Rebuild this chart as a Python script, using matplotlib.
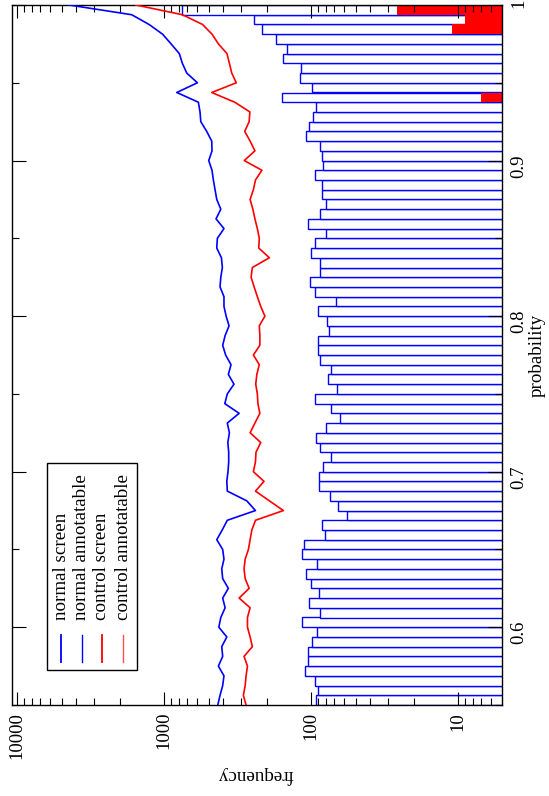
import numpy as np
import matplotlib
matplotlib.use("Agg")
import matplotlib.pyplot as plt
from matplotlib.ticker import LogLocator, MultipleLocator, FuncFormatter, NullFormatter
from matplotlib.lines import Line2D
from matplotlib.patches import Rectangle

plt.rcParams['font.family'] = ['Liberation Serif', 'DejaVu Serif']

# probability bins: 72 bins between 0.55 and 1.0
bin_edges = np.linspace(0.55, 1.0, 73)
bin_width = bin_edges[1] - bin_edges[0]
bin_centers = bin_edges[:-1] + bin_width / 2

# histogram counts per bin (low -> high probability)
normal_annotatable = [
    93, 90, 94, 110, 105, 106, 99, 92, 115, 88, 103, 89, 101, 109, 92, 115,
    112, 81, 85, 57, 66, 75, 89, 89, 83, 74, 88, 93, 80, 64, 74, 95,
    67, 77, 73, 88, 90, 90, 76, 78, 90, 68, 94, 102, 87, 88, 101, 94,
    80, 106, 87, 79, 85, 85, 95, 83, 85, 88, 109, 104, 98, 93, 159, 99,
    120, 117, 157, 146, 175, 216, 244, 754,
]
control_annotatable = [0] * 62 + [7, 0, 0, 0, 0, 0, 0, 11, 9, 26]

# screen counts at each bin edge (low -> high probability)
normal_screen = [
    433, 418, 401, 393, 429, 401, 407, 376, 426, 413, 386, 401, 367, 401, 407, 393,
    401, 440, 404, 373, 240, 275, 373, 376, 369, 365, 365, 370, 361, 373, 310, 388,
    373, 336, 367, 352, 383, 401, 386, 363, 380, 393, 393, 418, 413, 403, 409, 440,
    436, 393, 445, 413, 440, 452, 464, 474, 499, 474, 476, 515, 565, 572, 587, 823,
    596, 704, 754, 791, 900, 1028, 1271, 1667, 4450,
]
control_screen = [
    278, 290, 282, 278, 272, 287, 252, 261, 272, 272, 261, 310, 265, 282, 287, 282,
    268, 261, 254, 240, 155, 193, 240, 210, 248, 240, 238, 221, 261, 242, 224, 231,
    233, 239, 235, 226, 248, 224, 224, 226, 207, 221, 233, 245, 257, 252, 193, 228,
    226, 233, 242, 250, 261, 248, 240, 217, 286, 242, 261, 284, 265, 262, 332, 476,
    324, 348, 361, 375, 429, 474, 550, 754, 1560,
]

W, H = 549, 796
fig = plt.figure(figsize=(W / 100, H / 100), dpi=100)
ax = fig.add_axes([12 / W, 1 - 705 / H, 490 / W, 700 / H])

base = 1.0
na = np.array(normal_annotatable, dtype=float)
ca = np.array(control_annotatable, dtype=float)

ax.barh(bin_centers, na - base, left=base, height=bin_width,
        facecolor='white', edgecolor='#0000ff', linewidth=1.0, zorder=1)
mask = ca > 0
ax.barh(bin_centers[mask], ca[mask] - base, left=base, height=bin_width,
        facecolor='#ff0000', edgecolor='none', linewidth=0, zorder=1.5)

ax.plot(normal_screen, bin_edges, color='#0000ff', lw=1.2, zorder=3)
ax.plot(control_screen, bin_edges, color='#ff0000', lw=1.2, zorder=3)

ax.set_xscale('log')
ax.set_xlim(10870, 5.05)
ax.set_ylim(0.55, 1.0)

ax.xaxis.set_major_locator(LogLocator(base=10, numticks=10))
ax.xaxis.set_minor_locator(LogLocator(base=10, subs=np.arange(2, 10), numticks=20))
ax.xaxis.set_major_formatter(FuncFormatter(lambda v, p: '%d' % round(v)))
ax.xaxis.set_minor_formatter(NullFormatter())

ax.yaxis.set_major_locator(MultipleLocator(0.1))
ax.yaxis.set_minor_locator(MultipleLocator(0.05))
ax.yaxis.set_major_formatter(FuncFormatter(lambda v, p: '%g' % round(v, 2)))

ax.tick_params(axis='x', which='both', direction='in', bottom=True, top=True,
               labelbottom=True, labeltop=False, labelrotation=90,
               labelsize=13.5, pad=5, color='black')
ax.tick_params(axis='y', which='both', direction='in', left=True, right=True,
               labelleft=False, labelright=True, labelrotation=90,
               labelsize=13.5, pad=6, color='black')
ax.tick_params(axis='x', which='major', length=9.5, width=0.8)
ax.tick_params(axis='x', which='minor', length=5, width=0.8)
ax.tick_params(axis='y', which='major', length=10, width=0.8)
ax.tick_params(axis='y', which='minor', length=5, width=0.8)

for s in ax.spines.values():
    s.set_color('black')
    s.set_linewidth(1.0)

# axis labels (figure is turned on its side)
fig.text(255 / W, 1 - 775 / H, 'frequency', rotation=180, ha='center',
         va='center', fontsize=13.7)
fig.text(537 / W, 1 - 355 / H, 'probability', rotation=90, ha='center',
         va='center', fontsize=13.7)

# legend, drawn sideways
fig.patches.append(Rectangle((46.7 / W, 1 - 670 / H), 90 / W, 207.3 / H,
                             transform=fig.transFigure, facecolor='white',
                             edgecolor='black', linewidth=1.0, zorder=5))
legend_items = [
    ('normal screen', '#0000ff', 1.3, 61),
    ('normal annotatable', '#0000ff', 1.0, 82),
    ('control screen', '#ff0000', 1.3, 102),
    ('control annotatable', '#ff5050', 1.0, 123),
]
for label, col, lw, xp in legend_items:
    fig.lines.append(Line2D([xp / W, xp / W], [1 - 662 / H, 1 - 635 / H],
                            transform=fig.transFigure, color=col, lw=lw, zorder=6))
    fig.text(xp / W, 1 - 620 / H, label, rotation=90, ha='center', va='bottom',
             fontsize=13.7, zorder=6)

fig.savefig('out.png', dpi=100, facecolor='white')
